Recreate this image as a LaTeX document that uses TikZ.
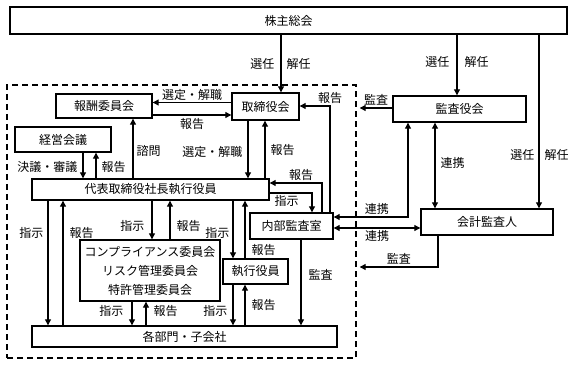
\documentclass[tikz,border=0pt]{standalone}
\usepackage{fontspec}
\setmainfont{Noto Sans CJK JP}
\usetikzlibrary{arrows.meta}

\begin{document}
\begin{tikzpicture}[
    x=1pt, y=-1pt,
    font=\fontsize{12}{14}\selectfont,
    >={Triangle[length=6pt,width=6pt]},
    box/.style={draw, line width=1.4pt, inner sep=0pt, align=center},
    flow/.style={->, line width=1.1pt},
    mutual/.style={<->, line width=1.1pt},
    lbl/.style={inner sep=2pt}
]
\useasboundingbox (0,0) rectangle (575,366);

% Company frame
\node[draw, line width=1.4pt, dash pattern=on 6pt off 4pt, minimum width=349, minimum height=273] (group) at (181.5,221.5) {};

% Bodies
\node[box, minimum width=557, minimum height=27] (kabunushi) at (288.5,20.5) {株主総会};
\node[box, minimum width=67, minimum height=27] (torishimari) at (265.5,106.5) {取締役会};
\node[box, minimum width=96, minimum height=24] (houshuu) at (104,106) {報酬委員会};
\node[box, minimum width=96, minimum height=25] (keiei) at (63,139.5) {経営会議};
\node[box, minimum width=237, minimum height=21] (daihyo) at (150.5,189.5) {代表取締役社長執行役員};
\node[box, minimum width=140, minimum height=61, font=\fontsize{12}{19}\selectfont] (comp) at (150,270.5) {コンプライアンス委員会\\リスク管理委員会\\特許管理委員会};
\node[box, minimum width=65, minimum height=25] (shikkou) at (255.5,271.5) {執行役員};
\node[box, minimum width=83, minimum height=26] (naibu) at (291.5,226) {内部監査室};
\node[box, minimum width=305, minimum height=21] (kakubu) at (184.5,336.5) {各部門・子会社};
\node[box, minimum width=133, minimum height=26] (kansayaku) at (459.5,109) {監査役会};
\node[box, minimum width=132, minimum height=26] (kaikei) at (487,222) {会計監査人};

% Shareholders
\draw[flow] ([xshift=-7.5]kabunushi.south) -- ([xshift=15.5]torishimari.north)
    node[lbl, left=4pt, midway] {選任} node[lbl, right=3pt, midway] {解任};
\draw[flow] ([xshift=168.5]kabunushi.south) -- ([xshift=-2.5]kansayaku.north)
    node[lbl, left=5pt, pos=0.45] {選任} node[lbl, right=5pt, pos=0.45] {解任};
\draw[flow] ([xshift=250.5]kabunushi.south) -- ([xshift=52]kaikei.north)
    node[lbl, left=2pt, pos=0.69] {選任} node[lbl, right=3pt, pos=0.69] {解任};

% Board
\draw[flow] ([yshift=4]torishimari.west) -- ([yshift=3.5]houshuu.east) node[lbl, above, midway, inner sep=1pt] {選定・解職};
\draw[flow] ([yshift=-9]houshuu.east) -- ([yshift=-8.5]torishimari.west) node[lbl, below, midway, inner sep=3pt] {報告};
\draw[flow] ([xshift=-17.5]torishimari.south) -- ([xshift=97.5]daihyo.north) node[lbl, left=3pt, pos=0.54] {選定・解職};
\draw[flow] ([xshift=114.5]daihyo.north) -- ([xshift=-0.5]torishimari.south) node[lbl, right=3pt, pos=0.49] {報告};
\draw[flow] ([xshift=-17.5]daihyo.north) -- ([xshift=29]houshuu.south) node[lbl, right=1pt, pos=0.46] {諮問};

% Management meeting
\draw[flow] ([xshift=20]keiei.south) -- ([xshift=-67.5]daihyo.north) node[lbl, left=3pt, pos=0.56] {決議・審議};
\draw[flow] ([xshift=-54.5]daihyo.north) -- ([xshift=33]keiei.south) node[lbl, right=3pt, pos=0.44] {報告};

% Internal audit
\draw[flow] ([xshift=38.5]naibu.north) |- ([yshift=0.5]torishimari.east) node[lbl, above, pos=0.5] {報告};
\draw[flow] ([xshift=30.5]naibu.north) |- ([yshift=6.5]daihyo.east) node[lbl, above, pos=0.7] {報告};
\draw[flow] ([yshift=-3.5]daihyo.east) -| ([xshift=20.5]naibu.north) node[lbl, below, pos=0.2] {指示};
\draw[flow] ([xshift=9.5]naibu.south) -- ([xshift=116.5]kakubu.north) node[lbl, right=5pt, pos=0.41] {監査};

% Auditors
\draw[mutual] ([yshift=9]naibu.east) -| ([xshift=-51.5]kansayaku.south) node[lbl, above, pos=0.29] {連携};
\draw[mutual] ([yshift=-2]naibu.east) -- ([yshift=-6]kaikei.west) node[lbl, below, midway] {連携};
\draw[mutual] ([xshift=-24.5]kansayaku.south) -- ([xshift=-52]kaikei.north) node[lbl, right=3pt, pos=0.47] {連携};
\draw[flow] ([yshift=1]kansayaku.west) -- ([xshift=3,yshift=113.5]group.east) node[lbl, above, midway] {監査};
\draw[flow] ([xshift=-49]kaikei.south) |- ([xshift=3,yshift=-45.5]group.east) node[lbl, above, pos=0.75] {監査};

% Execution
\draw[flow] ([xshift=1.5]daihyo.south) -- ([xshift=2]comp.north) node[lbl, left=5pt, pos=0.65] {指示};
\draw[flow] ([xshift=20]comp.north) -- ([xshift=19.5]daihyo.south) node[lbl, right=4pt, pos=0.35] {報告};
\draw[flow] ([xshift=-102.5]daihyo.south) -- ([xshift=-136.5]kakubu.north) node[lbl, left=2pt, pos=0.26] {指示};
\draw[flow] ([xshift=-121.5]kakubu.north) -- ([xshift=-87.5]daihyo.south) node[lbl, right=4pt, pos=0.74] {報告};
\draw[flow] ([xshift=82.5]daihyo.south) -- ([xshift=-22.5]shikkou.north) node[lbl, left=1pt, pos=0.56] {指示};
\draw[flow] ([xshift=-10.5]shikkou.north) -- ([xshift=94.5]daihyo.south) node[lbl, right=4pt, pos=0.14] {報告};
\draw[flow] ([xshift=-18]comp.south) -- ([xshift=-52.5]kakubu.north) node[lbl, left=6pt, pos=0.4] {指示};
\draw[flow] ([xshift=-38.5]kakubu.north) -- ([xshift=-4]comp.south) node[lbl, right=5pt, pos=0.6] {報告};
\draw[flow] ([xshift=-22.5]shikkou.south) -- ([xshift=48.5]kakubu.north) node[lbl, left=3pt, pos=0.64] {指示};
\draw[flow] ([xshift=60.5]kakubu.north) -- ([xshift=-10.5]shikkou.south) node[lbl, right=4pt, pos=0.5] {報告};

\end{tikzpicture}
\end{document}
